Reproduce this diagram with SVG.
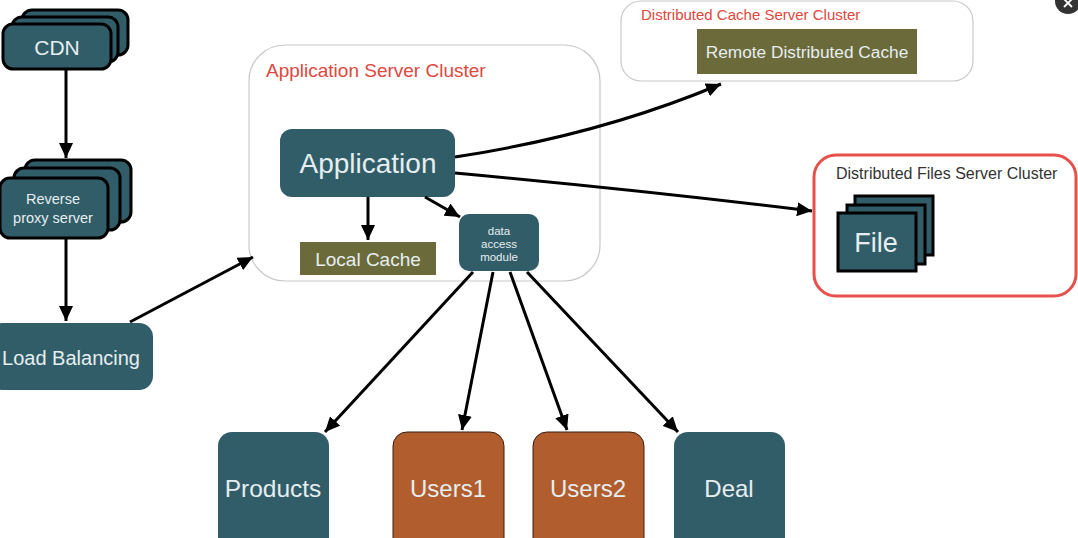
<svg xmlns="http://www.w3.org/2000/svg" width="1078" height="538" viewBox="0 0 1078 538">
<defs>
<marker id="arr" markerUnits="userSpaceOnUse" markerWidth="16" markerHeight="14" refX="15" refY="7" orient="auto"><path d="M0,0 L15,7 L0,14 z" fill="#000"/></marker>
<style>
.teal{fill:#315d68}
.stk{fill:#315d68;stroke:#000;stroke-width:3}
.olive{fill:#6b6a3b}
.orange{fill:#b15d2d;stroke:#3a2010;stroke-width:1}
.cl{fill:#fff;stroke:#c8c8c8;stroke-width:1.2}
.t{font-family:"Liberation Sans",Arial,sans-serif;fill:#e6eef0;text-anchor:middle}
.red{font-family:"Liberation Sans",Arial,sans-serif;fill:#e0473d}
.c{fill:none;stroke:#000;stroke-width:3;marker-end:url(#arr)}
</style>
</defs>
<rect width="1078" height="538" fill="#fff"/>

<g id="cdn">
<rect class="stk" x="22" y="10" width="106" height="45" rx="10"/>
<rect class="stk" x="12" y="17" width="106" height="45" rx="10"/>
<rect class="stk" x="3" y="24" width="108" height="45" rx="10"/>
<text class="t" x="57" y="55" font-size="21">CDN</text>
</g>

<g id="reverse-proxy">
<rect class="stk" x="25" y="160" width="106" height="62" rx="10"/>
<rect class="stk" x="14" y="168" width="106" height="62" rx="10"/>
<rect class="stk" x="0" y="178" width="108" height="60" rx="10"/>
<text class="t" x="53" y="204" font-size="14.5">Reverse</text>
<text class="t" x="53" y="223" font-size="14.5">proxy server</text>
</g>

<g id="load-balancing">
<rect class="teal" x="-12" y="323" width="165" height="67" rx="14"/>
<text class="t" x="71" y="365" font-size="20">Load Balancing</text>
</g>

<g id="app-cluster">
<rect class="cl" x="249" y="45" width="351" height="236" rx="36"/>
<text class="red" x="266" y="77" font-size="19">Application Server Cluster</text>
</g>

<g id="application">
<rect class="teal" x="280" y="129" width="175" height="68" rx="12"/>
<text class="t" x="368" y="173" font-size="28">Application</text>
</g>

<g id="local-cache">
<rect class="olive" x="300" y="242" width="136" height="33"/>
<text class="t" x="368" y="266" font-size="19">Local Cache</text>
</g>

<g id="data-access">
<rect class="teal" x="459" y="214" width="80" height="57" rx="10"/>
<text class="t" x="499" y="235" font-size="11.5">data</text>
<text class="t" x="499" y="248" font-size="11.5">access</text>
<text class="t" x="499" y="261" font-size="11.5">module</text>
</g>

<g id="cache-cluster">
<rect class="cl" x="621" y="1" width="352" height="80" rx="20"/>
<text class="red" x="641" y="20" font-size="15">Distributed Cache Server Cluster</text>
</g>

<g id="remote-cache">
<rect class="olive" x="697" y="29" width="220" height="45"/>
<text class="t" x="807" y="58" font-size="17.3">Remote Distributed Cache</text>
</g>

<g id="files-cluster">
<rect x="814" y="155" width="262" height="141" rx="22" fill="#fff" stroke="#e8514b" stroke-width="3"/>
<text x="836" y="179" font-size="16" font-family="'Liberation Sans',Arial,sans-serif" fill="#333">Distributed Files Server Cluster</text>
</g>

<g id="file">
<rect class="stk" x="855" y="196" width="78" height="59"/>
<rect class="stk" x="847" y="205" width="78" height="59"/>
<rect class="stk" x="838" y="213" width="78" height="58"/>
<text class="t" x="876" y="252" font-size="27">File</text>
</g>

<g id="products">
<rect class="teal" x="218" y="432" width="111" height="120" rx="14"/>
<text class="t" x="273" y="497" font-size="24.5">Products</text>
</g>
<g id="users1">
<rect class="orange" x="393" y="432" width="111" height="120" rx="14"/>
<text class="t" x="448" y="497" font-size="24">Users1</text>
</g>
<g id="users2">
<rect class="orange" x="533" y="432" width="111" height="120" rx="14"/>
<text class="t" x="588" y="497" font-size="24">Users2</text>
</g>
<g id="deal">
<rect class="teal" x="674" y="432" width="111" height="120" rx="14"/>
<text class="t" x="729" y="497" font-size="24">Deal</text>
</g>

<g id="close-button">
<circle cx="1068" cy="1" r="13" fill="#333"/>
<path d="M1064,-1 L1072,7 M1072,-1 L1064,7" stroke="#fff" stroke-width="1.8"/>
</g>

<g id="connectors">
<line class="c" x1="66" y1="70" x2="66" y2="158"/>
<line class="c" x1="66" y1="238" x2="66" y2="321"/>
<line class="c" x1="130" y1="322" x2="253" y2="257"/>
<line class="c" x1="368" y1="197" x2="368" y2="240"/>
<line class="c" x1="425" y1="197" x2="460" y2="217"/>
<path class="c" d="M455,157 Q600,135 721,84"/>
<path class="c" d="M455,173 Q640,190 812,211"/>
<line class="c" x1="473" y1="272" x2="325" y2="432"/>
<line class="c" x1="493" y1="272" x2="462" y2="430"/>
<line class="c" x1="510" y1="272" x2="567" y2="430"/>
<line class="c" x1="527" y1="272" x2="678" y2="432"/>
</g>
</svg>
